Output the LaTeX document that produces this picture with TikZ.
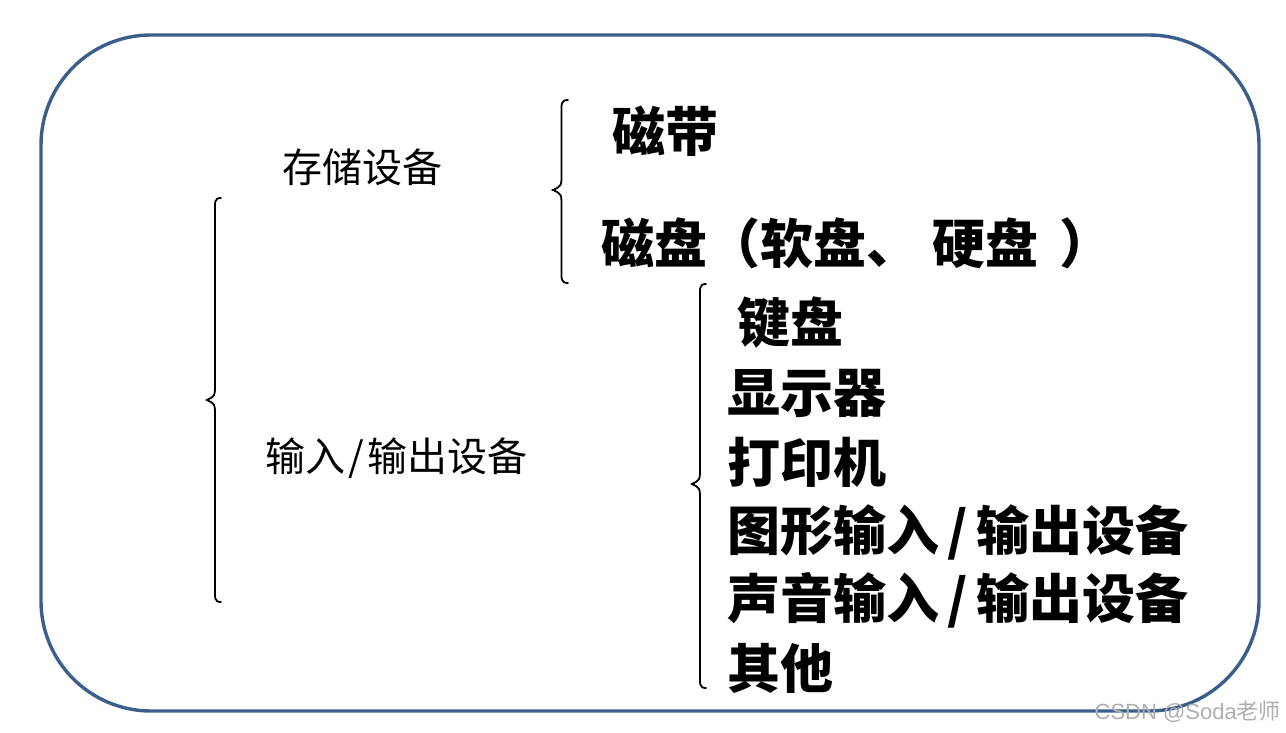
\documentclass[tikz,border=0pt]{standalone}
\usepackage{fontspec}
\newfontfamily\cjk{Noto Sans CJK SC}
\definecolor{frameblue}{RGB}{58,95,140}
\definecolor{wmgray}{RGB}{175,175,175}
\tikzset{
  outerframe/.style={draw=frameblue, line width=3.4pt, rounded corners=110pt},
  bracepath/.style={draw=black, line width=1.8pt, line cap=round},
  smalltext/.style={anchor=west, inner sep=0pt, font=\cjk\fontsize{40}{44}\selectfont},
  bigtext/.style={anchor=west, inner sep=0pt, font=\cjk\bfseries\fontsize{53}{60}\selectfont},
  wmtext/.style={anchor=east, inner sep=0pt, text=wmgray, font=\fontspec{Liberation Sans}\fontsize{22}{24}\selectfont}
}
\newcommand{\smslash}{\makebox[0.55em]{/}}
\newcommand{\bgslash}{\makebox[0.7em]{/}}
\newcommand{\curlybrace}[5]{% xtip, xend, ytop, ytip, ybot
  \draw[bracepath] (#2,#3) .. controls ({(#1+#2)/2},#3) and ({(#1+#2)/2+1},#3+4) .. ({(#1+#2)/2+1},#3+16)
    -- ({(#1+#2)/2+1},#4-16) .. controls ({(#1+#2)/2+1},#4-4) .. (#1,#4)
    .. controls ({(#1+#2)/2+1},#4+4) .. ({(#1+#2)/2+1},#4+16)
    -- ({(#1+#2)/2+1},#5-16) .. controls ({(#1+#2)/2+1},#5-4) and ({(#1+#2)/2},#5) .. (#2,#5);}
\begin{document}
\begin{tikzpicture}[x=1pt,y=-1pt]
\useasboundingbox (0,0) rectangle (1286,733);
\draw[outerframe] (41,35) rectangle (1259,711);
% braces
\curlybrace{207}{221}{198}{400}{602}
\curlybrace{553}{568}{100}{190}{283}
\curlybrace{692}{706}{284}{484}{688}
% texts
\node[smalltext] (store) at (282,167) {存储设备};
\node[smalltext] (io) at (265,458) {输入\smslash 输出设备};
\node[bigtext] (tape) at (612,131) {磁带};
\node[bigtext] (disk) at (601,243) {磁盘（软盘、\hspace{0.25em}硬盘\hspace{0.4em}）};
\node[bigtext] (kbd) at (737,323) {键盘};
\node[bigtext] (disp) at (727,393) {显示器};
\node[bigtext] (prn) at (727,462) {打印机};
\node[bigtext] (gio) at (727,532) {图形输入\bgslash 输出设备};
\node[bigtext] (sio) at (727,600) {声音输入\bgslash 输出设备};
\node[bigtext] (other) at (727,668) {其他};
\node[wmtext] (wm) at (1281,712) {CSDN @Soda{\cjk 老师}};
\end{tikzpicture}
\end{document}
